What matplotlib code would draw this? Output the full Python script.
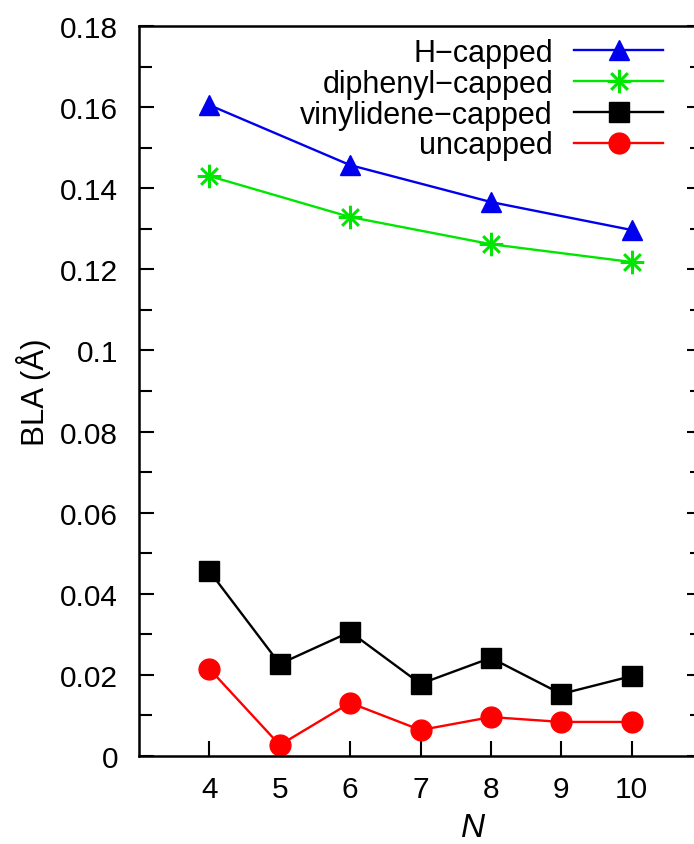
import numpy as np
import matplotlib
matplotlib.use("Agg")
import matplotlib.pyplot as plt
from matplotlib.path import Path
from matplotlib.ticker import MultipleLocator, FixedLocator, FuncFormatter

plt.rcParams['font.family'] = ['Liberation Sans', 'DejaVu Sans']

# data
n_h = [4, 6, 8, 10]
bla_h = [0.1605, 0.1457, 0.1366, 0.1297]
n_ph = [4, 6, 8, 10]
bla_ph = [0.1430, 0.1329, 0.1262, 0.1218]
n_all = [4, 5, 6, 7, 8, 9, 10]
bla_vin = [0.0456, 0.0227, 0.0306, 0.0178, 0.0242, 0.0153, 0.0197]
bla_unc = [0.0215, 0.0027, 0.0131, 0.0064, 0.0096, 0.0084, 0.0084]
labels = ['H\u2212capped', 'diphenyl\u2212capped', 'vinylidene\u2212capped', 'uncapped']
xticks = [4, 5, 6, 7, 8, 9, 10]

# gnuplot style asterisk (+ and x together)
d = 0.7071
star = Path([(-1, 0), (1, 0), (0, -1), (0, 1), (-d, -d), (d, d), (-d, d), (d, -d)],
            [Path.MOVETO, Path.LINETO] * 4)

W, H = 694, 845
fig = plt.figure(figsize=(W / 100, H / 100), dpi=100)
# axes runs a little past the right edge, as in the cropped original
ax = fig.add_axes([139 / W, 88 / H, (702 - 139) / W, 730 / H])

lw = 1.7
ax.plot(n_h, bla_h, color='#0000ee', lw=lw, marker='^', ms=15, label=labels[0])
ax.plot(n_ph, bla_ph, color='#00e600', lw=lw, marker=star, ms=17, mew=2.2,
        mfc='none', label=labels[1])
ax.plot(n_all, bla_vin, color='black', lw=lw, marker='s', ms=14, label=labels[2])
ax.plot(n_all, bla_unc, color='#ff0000', lw=lw, marker='o', ms=15, label=labels[3])

ax.set_xlim(3, 11)
ax.set_ylim(0, 0.18)
ax.xaxis.set_major_locator(FixedLocator(xticks))
ax.yaxis.set_major_locator(MultipleLocator(0.02))
ax.yaxis.set_minor_locator(MultipleLocator(0.01))
ax.yaxis.set_major_formatter(FuncFormatter(lambda v, p: '%g' % round(v, 3)))

fs = 21.5
for s in ax.spines.values():
    s.set_linewidth(1.8)
ax.tick_params(axis='y', which='both', direction='in', left=True, right=True,
               labelsize=fs, pad=15, width=1.5)
ax.tick_params(axis='y', which='major', length=11)
ax.tick_params(axis='y', which='minor', length=9)
ax.tick_params(axis='x', which='major', direction='in', top=False, length=11,
               width=1.5, labelsize=fs, pad=14)

ax.set_ylabel('BLA (Å)', fontsize=22.5)
ax.yaxis.set_label_coords(-0.157, 0.5)
ax.set_xlabel('N', fontsize=24, style='italic')
ax.xaxis.set_label_coords((473 - 139) / 563, -0.077)

leg = ax.legend(loc='upper right', bbox_to_anchor=((663 - 139) / 563, 0.984),
                frameon=False, markerfirst=False, fontsize=22,
                handlelength=2.9, handletextpad=0.7, labelspacing=0.03,
                borderpad=0, borderaxespad=0)

fig.savefig('out.png', dpi=100)
